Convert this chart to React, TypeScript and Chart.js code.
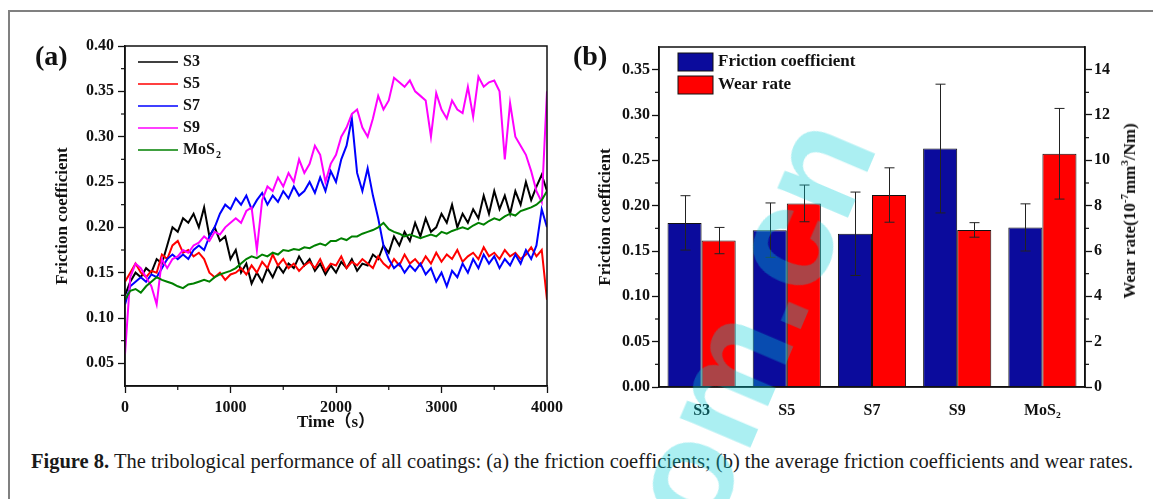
import React, { useEffect, useRef } from 'react';
import { Chart, registerables } from 'chart.js';

Chart.register(...registerables);

// ---------- data: panel (a) friction coefficient vs time ----------
const TIME = [
  0, 50, 100, 150, 200, 250, 300, 350, 400, 450,
  500, 550, 600, 650, 700, 750, 800, 850, 900, 950,
  1000, 1050, 1100, 1150, 1200, 1250, 1300, 1350, 1400, 1450,
  1500, 1550, 1600, 1650, 1700, 1750, 1800, 1850, 1900, 1950,
  2000, 2050, 2100, 2150, 2200, 2250, 2300, 2350, 2400, 2450,
  2500, 2550, 2600, 2650, 2700, 2750, 2800, 2850, 2900, 2950,
  3000, 3050, 3100, 3150, 3200, 3250, 3300, 3350, 3400, 3450,
  3500, 3550, 3600, 3650, 3700, 3750, 3800, 3850, 3900, 3950,
  4000,
];

const S3 = [
  0.125, 0.14, 0.15, 0.145, 0.155, 0.15, 0.165, 0.16, 0.18, 0.2,
  0.195, 0.21, 0.205, 0.215, 0.2, 0.222, 0.19, 0.2, 0.185, 0.19,
  0.165, 0.175, 0.15, 0.16, 0.138, 0.15, 0.14, 0.155, 0.145, 0.158,
  0.15, 0.16, 0.155, 0.168, 0.158, 0.165, 0.152, 0.16, 0.148, 0.158,
  0.15, 0.162, 0.155, 0.165, 0.152, 0.16, 0.158, 0.17, 0.165, 0.18,
  0.172, 0.19, 0.18, 0.195, 0.185, 0.205, 0.19, 0.21, 0.195, 0.2,
  0.215, 0.205, 0.225, 0.2, 0.215, 0.205, 0.22, 0.21, 0.235, 0.215,
  0.24, 0.22, 0.235, 0.215, 0.24, 0.225, 0.25, 0.23, 0.245, 0.258,
  0.24,
];

const S5 = [
  0.14, 0.15, 0.16, 0.15, 0.145, 0.152, 0.15, 0.17, 0.165, 0.18,
  0.185, 0.172, 0.175, 0.168, 0.172, 0.165, 0.15, 0.145, 0.15, 0.142,
  0.148, 0.15, 0.155, 0.148, 0.158, 0.15, 0.162, 0.155, 0.17, 0.158,
  0.165, 0.155, 0.16, 0.152, 0.158, 0.162, 0.155, 0.165, 0.152, 0.16,
  0.158, 0.168, 0.155, 0.162, 0.158, 0.165, 0.16, 0.155, 0.168, 0.16,
  0.155, 0.165, 0.158, 0.17, 0.16, 0.165, 0.158, 0.168, 0.16, 0.172,
  0.162, 0.17, 0.165, 0.175, 0.162, 0.168, 0.172, 0.165, 0.178, 0.168,
  0.172, 0.165, 0.175, 0.168, 0.172, 0.165, 0.17, 0.178, 0.168, 0.175,
  0.12,
];

const S7 = [
  0.115, 0.135, 0.14, 0.145, 0.14, 0.148, 0.145, 0.155, 0.165, 0.17,
  0.165, 0.17, 0.165, 0.175, 0.18, 0.175, 0.19, 0.2, 0.215, 0.225,
  0.22, 0.232, 0.225, 0.235, 0.22, 0.23, 0.238, 0.225, 0.235, 0.228,
  0.24, 0.232, 0.245, 0.235, 0.24, 0.25, 0.238, 0.255, 0.24, 0.262,
  0.25, 0.275, 0.29, 0.32, 0.26, 0.24, 0.265, 0.235, 0.21, 0.18,
  0.165, 0.155, 0.16, 0.15, 0.158, 0.152, 0.16, 0.148, 0.155, 0.14,
  0.15, 0.135, 0.152, 0.145, 0.16, 0.15, 0.165, 0.155, 0.17, 0.16,
  0.168, 0.155, 0.165, 0.158, 0.17, 0.16, 0.175, 0.165, 0.18, 0.22,
  0.2,
];

const S9 = [
  0.06, 0.145, 0.16, 0.155, 0.145, 0.135, 0.115, 0.165, 0.155, 0.165,
  0.168, 0.175, 0.172, 0.18, 0.183, 0.19, 0.185, 0.195, 0.192, 0.2,
  0.205, 0.21, 0.205, 0.218, 0.222, 0.175, 0.23, 0.245, 0.24, 0.255,
  0.245, 0.26, 0.25, 0.275, 0.26, 0.27, 0.29, 0.28, 0.25, 0.27,
  0.28, 0.3, 0.31, 0.325, 0.33, 0.31, 0.3, 0.32, 0.345, 0.33,
  0.34, 0.365, 0.36, 0.355, 0.362, 0.35, 0.345, 0.34, 0.3, 0.348,
  0.33, 0.32, 0.34, 0.33, 0.326, 0.355, 0.322, 0.366, 0.355, 0.36,
  0.362, 0.35, 0.275, 0.337, 0.3, 0.29, 0.28, 0.262, 0.24, 0.228,
  0.35,
];

const MOS2 = [
  0.12, 0.13, 0.132, 0.128, 0.135, 0.14, 0.145, 0.142, 0.14, 0.138,
  0.135, 0.133, 0.137, 0.138, 0.14, 0.142, 0.14, 0.145, 0.148, 0.15,
  0.152, 0.155, 0.16, 0.165, 0.168, 0.166, 0.17, 0.168, 0.172, 0.17,
  0.175, 0.174, 0.176, 0.175, 0.178, 0.177, 0.18, 0.182, 0.18, 0.185,
  0.185, 0.188, 0.186, 0.19, 0.19, 0.193, 0.195, 0.197, 0.2, 0.205,
  0.198, 0.195, 0.193, 0.19, 0.192, 0.19, 0.188, 0.19, 0.192, 0.19,
  0.195, 0.193, 0.196, 0.198, 0.2, 0.198, 0.202, 0.205, 0.203, 0.207,
  0.21, 0.208, 0.212, 0.215, 0.213, 0.218, 0.22, 0.222, 0.225, 0.23,
  0.24,
];

const LINE_LABELS = ['S3', 'S5', 'S7', 'S9', 'MoS₂'];
const LINE_VALUES = [S3, S5, S7, S9, MOS2];
const LINE_COLORS = ['#000000', '#ff0000', '#0000ff', '#ff00ff', '#008000'];
const LINE_ORDER = [4, 3, 2, 1, 0];

const TIME_TICKS = [0, 1000, 2000, 3000, 4000];
const FC_TICKS_A = [0.05, 0.1, 0.15, 0.2, 0.25, 0.3, 0.35, 0.4];

// ---------- data: panel (b) averages ----------
const BAR_CATEGORIES = ['S3', 'S5', 'S7', 'S9', 'MoS₂'];
const FRICTION_MEAN = [0.181, 0.173, 0.169, 0.263, 0.176];
const FRICTION_ERR = [0.03, 0.03, 0.046, 0.071, 0.026];
const WEAR_MEAN = [6.46, 8.1, 8.47, 6.93, 10.29];
const WEAR_ERR = [0.58, 0.81, 1.2, 0.32, 2.0];
const FC_TICKS_B = [0, 0.05, 0.1, 0.15, 0.2, 0.25, 0.3, 0.35];
const WEAR_TICKS = [0, 2, 4, 6, 8, 10, 12, 14];

// ---------- styling ----------
const SERIF = '"Liberation Serif", "Times New Roman", "Noto Sans CJK SC", serif';
const INK = '#111111';
const BLUE = '#0b0b9c';
const RED = '#ff0000';
const TICK_FONT = { family: SERIF, size: 16, weight: 'bold' as const };
const TITLE_FONT = { family: SERIF, size: 17, weight: 'bold' as const };

function drawLabel(ctx: any, text: string, x: number, y: number, size: number) {
  if (text.endsWith('₂')) {
    const main = text.slice(0, -1);
    ctx.fillText(main, x, y);
    const w = ctx.measureText(main).width;
    const f = ctx.font;
    ctx.font = `bold ${Math.round(size * 0.62)}px ${SERIF}`;
    ctx.fillText('2', x + w + 1, y + size * 0.32);
    ctx.font = f;
  } else {
    ctx.fillText(text, x, y);
  }
}

const boxAndMinor = {
  id: 'boxAndMinor',
  afterDraw(chart: any, _args: any, opts: any) {
    const { ctx, chartArea: a } = chart;
    ctx.save();
    ctx.strokeStyle = INK;
    ctx.lineWidth = 1.5;
    ctx.strokeRect(a.left, a.top, a.right - a.left, a.bottom - a.top);
    ctx.lineWidth = 1.2;
    (opts.axes || []).forEach((id: string) => {
      const s = chart.scales[id];
      const vals = s.ticks.map((t: any) => t.value);
      const half = (vals[1] - vals[0]) / 2;
      const minors: number[] = [];
      for (let i = 0; i < vals.length - 1; i++) minors.push((vals[i] + vals[i + 1]) / 2);
      const lo = vals[0] - half;
      const hi = vals[vals.length - 1] + half;
      if (lo > s.min + 1e-9) minors.unshift(lo);
      if (hi < s.max - 1e-9) minors.push(hi);
      minors.forEach((v) => {
        const p = s.getPixelForValue(v);
        ctx.beginPath();
        if (s.position === 'bottom') {
          ctx.moveTo(p, a.bottom);
          ctx.lineTo(p, a.bottom + 4);
        } else if (s.position === 'left') {
          ctx.moveTo(a.left - 4, p);
          ctx.lineTo(a.left, p);
        } else {
          ctx.moveTo(a.right, p);
          ctx.lineTo(a.right + 4, p);
        }
        ctx.stroke();
      });
    });
    ctx.restore();
  },
};

const lineLegend = {
  id: 'lineLegend',
  afterDraw(chart: any, _args: any, opts: any) {
    const { ctx } = chart;
    ctx.save();
    ctx.font = `bold ${opts.size}px ${SERIF}`;
    ctx.textBaseline = 'middle';
    chart.data.datasets.forEach((ds: any, i: number) => {
      const y = opts.y + i * opts.dy;
      ctx.strokeStyle = ds.borderColor;
      ctx.lineWidth = 1.5;
      ctx.beginPath();
      ctx.moveTo(opts.x, y);
      ctx.lineTo(opts.x + opts.len, y);
      ctx.stroke();
      ctx.fillStyle = INK;
      drawLabel(ctx, ds.label, opts.x + opts.len + opts.gap, y, opts.size);
    });
    ctx.restore();
  },
};

const barLegend = {
  id: 'barLegend',
  afterDraw(chart: any, _args: any, opts: any) {
    const { ctx } = chart;
    ctx.save();
    ctx.font = `bold ${opts.size}px ${SERIF}`;
    ctx.textBaseline = 'middle';
    chart.data.datasets.forEach((ds: any, i: number) => {
      const y = opts.y + i * opts.dy;
      ctx.fillStyle = ds.backgroundColor;
      ctx.fillRect(opts.x, y - opts.h / 2, opts.w, opts.h);
      ctx.strokeStyle = INK;
      ctx.lineWidth = 1;
      ctx.strokeRect(opts.x, y - opts.h / 2, opts.w, opts.h);
      ctx.fillStyle = INK;
      drawLabel(ctx, ds.label, opts.x + opts.w + opts.gap, y, opts.size);
    });
    ctx.restore();
  },
};

const errorBars = {
  id: 'errorBars',
  afterDatasetsDraw(chart: any) {
    const { ctx } = chart;
    ctx.save();
    ctx.strokeStyle = '#222222';
    ctx.lineWidth = 1;
    chart.data.datasets.forEach((ds: any, di: number) => {
      const meta = chart.getDatasetMeta(di);
      const scale = chart.scales[ds.yAxisID];
      meta.data.forEach((bar: any, i: number) => {
        const v = ds.data[i];
        const e = ds.errors[i];
        const yT = scale.getPixelForValue(v + e);
        const yB = scale.getPixelForValue(v - e);
        const x = Math.round(bar.x) + 0.5;
        ctx.beginPath();
        ctx.moveTo(x, yT);
        ctx.lineTo(x, yB);
        ctx.moveTo(x - 5, yT);
        ctx.lineTo(x + 5, yT);
        ctx.moveTo(x - 5, yB);
        ctx.lineTo(x + 5, yB);
        ctx.stroke();
      });
    });
    ctx.restore();
  },
};

const axisGrid = {
  display: true,
  drawOnChartArea: false,
  drawTicks: true,
  tickLength: 7,
  tickWidth: 1.3,
  tickColor: INK,
};
const axisBorder = { display: true, color: INK, width: 1.5 };

export default function App() {
  const refA = useRef<HTMLCanvasElement | null>(null);
  const refB = useRef<HTMLCanvasElement | null>(null);

  useEffect(() => {
    const chartA = new Chart(refA.current as HTMLCanvasElement, {
      type: 'line',
      data: {
        datasets: LINE_LABELS.map((label, k) => ({
          label,
          data: TIME.map((t, i) => ({ x: t, y: LINE_VALUES[k][i] })),
          borderColor: LINE_COLORS[k],
          backgroundColor: LINE_COLORS[k],
          borderWidth: 2,
          pointRadius: 0,
          tension: 0,
          order: LINE_ORDER[k],
        })),
      },
      options: {
        responsive: false,
        animation: false,
        devicePixelRatio: 1,
        layout: { padding: { left: 52, top: 46, right: 23, bottom: 12 } },
        plugins: {
          legend: { display: false },
          tooltip: { enabled: false },
          boxAndMinor: { axes: ['x', 'y'] },
          lineLegend: { x: 138, y: 62, dy: 22, len: 40, gap: 5, size: 16 },
        } as any,
        scales: {
          x: {
            type: 'linear',
            min: 0,
            max: 4000,
            afterBuildTicks: (ax: any) => {
              ax.ticks = TIME_TICKS.map((v) => ({ value: v }));
            },
            afterFit: (ax: any) => {
              ax.height = 47;
            },
            ticks: { font: TICK_FONT, color: INK, padding: 5, maxRotation: 0, callback: (v: any) => String(v) },
            grid: axisGrid,
            border: axisBorder,
            title: { display: true, text: 'Time（s）', font: TITLE_FONT, color: INK, padding: 0 },
          },
          y: {
            type: 'linear',
            min: 0.025,
            max: 0.4,
            afterBuildTicks: (ax: any) => {
              ax.ticks = FC_TICKS_A.map((v) => ({ value: v }));
            },
            afterFit: (ax: any) => {
              ax.width = 73;
            },
            ticks: { font: TICK_FONT, color: INK, padding: 4, callback: (v: any) => Number(v).toFixed(2) },
            grid: axisGrid,
            border: axisBorder,
            title: { display: true, text: 'Friction coefficient', font: TITLE_FONT, color: INK, padding: 0 },
          },
        },
      } as any,
      plugins: [boxAndMinor, lineLegend],
    });

    const chartB = new Chart(refB.current as HTMLCanvasElement, {
      type: 'bar',
      data: {
        labels: BAR_CATEGORIES,
        datasets: [
          {
            label: 'Friction coefficient',
            data: FRICTION_MEAN,
            errors: FRICTION_ERR,
            yAxisID: 'y',
            backgroundColor: BLUE,
            borderColor: INK,
            borderWidth: 1,
            categoryPercentage: 0.8,
            barPercentage: 1,
          } as any,
          {
            label: 'Wear rate',
            data: WEAR_MEAN,
            errors: WEAR_ERR,
            yAxisID: 'y1',
            backgroundColor: RED,
            borderColor: INK,
            borderWidth: 1,
            categoryPercentage: 0.8,
            barPercentage: 1,
          } as any,
        ],
      },
      options: {
        responsive: false,
        animation: false,
        devicePixelRatio: 1,
        layout: { padding: { left: 35, top: 47, right: 28, bottom: 13 } },
        plugins: {
          legend: { display: false },
          tooltip: { enabled: false },
          boxAndMinor: { axes: ['y', 'y1'] },
          barLegend: { x: 118, y: 62, dy: 23, w: 35, h: 18, gap: 5, size: 17 },
        } as any,
        scales: {
          x: {
            afterFit: (ax: any) => {
              ax.height = 45;
            },
            ticks: { font: TICK_FONT, color: INK, padding: 6 },
            grid: { display: false },
            border: axisBorder,
          },
          y: {
            type: 'linear',
            position: 'left',
            min: 0,
            max: 0.375,
            afterBuildTicks: (ax: any) => {
              ax.ticks = FC_TICKS_B.map((v) => ({ value: v }));
            },
            afterFit: (ax: any) => {
              ax.width = 64;
            },
            ticks: { font: TICK_FONT, color: INK, padding: 2, callback: (v: any) => Number(v).toFixed(2) },
            grid: axisGrid,
            border: axisBorder,
            title: { display: true, text: 'Friction coefficient', font: TITLE_FONT, color: INK, padding: 0 },
          },
          y1: {
            type: 'linear',
            position: 'right',
            min: 0,
            max: 15,
            afterBuildTicks: (ax: any) => {
              ax.ticks = WEAR_TICKS.map((v) => ({ value: v }));
            },
            afterFit: (ax: any) => {
              ax.width = 40;
            },
            ticks: { font: TICK_FONT, color: INK, padding: 2, callback: (v: any) => String(v) },
            grid: axisGrid,
            border: axisBorder,
          },
        },
      } as any,
      plugins: [boxAndMinor, errorBars, barLegend],
    });

    return () => {
      chartA.destroy();
      chartB.destroy();
    };
  }, []);

  const abs = { position: 'absolute' as const };

  return (
    <div style={{ ...abs, left: 0, top: 0, width: 1153, height: 499, overflow: 'hidden', background: '#ffffff' }}>
      <div
        style={{
          ...abs,
          left: 8,
          top: 10,
          width: 1300,
          height: 700,
          borderTop: '2px solid #808080',
          borderLeft: '2px solid #808080',
        }}
      />
      <canvas ref={refA} width={570} height={445} style={{ ...abs, left: 0, top: 0 }} />
      <canvas ref={refB} width={593} height={445} style={{ ...abs, left: 560, top: 0 }} />
      <div style={{ ...abs, left: 35, top: 40, font: `bold 28px ${SERIF}`, lineHeight: '32px', color: INK }}>(a)</div>
      <div style={{ ...abs, left: 573, top: 40, font: `bold 28px ${SERIF}`, lineHeight: '32px', color: INK }}>(b)</div>
      <div
        style={{
          ...abs,
          left: 1130,
          top: 211,
          transform: 'translate(-50%, -50%) rotate(-90deg)',
          font: `bold 17px ${SERIF}`,
          lineHeight: '20px',
          whiteSpace: 'nowrap',
          color: INK,
        }}
      >
        Wear rate(10<sup style={{ fontSize: 11, lineHeight: 0 }}>-7</sup>mm<sup style={{ fontSize: 11, lineHeight: 0 }}>3</sup>/Nm)
      </div>
      <div
        style={{
          ...abs,
          left: 31,
          top: 449,
          font: `20.5px ${SERIF}`,
          lineHeight: '24px',
          whiteSpace: 'nowrap',
          color: '#1a1a1a',
        }}
      >
        <b>Figure 8.</b> The tribological performance of all coatings: (a) the friction coefficients; (b) the average
        friction coefficients and wear rates.
      </div>
      <div
        style={{
          ...abs,
          left: 568,
          top: 565,
          transformOrigin: '0 0',
          transform: 'rotate(-67deg)',
          font: 'bold 145px "Liberation Sans", Arial, sans-serif',
          lineHeight: 1,
          whiteSpace: 'nowrap',
          color: 'rgba(0, 205, 215, 0.33)',
          pointerEvents: 'none',
        }}
      >
        com.cn
      </div>
    </div>
  );
}
